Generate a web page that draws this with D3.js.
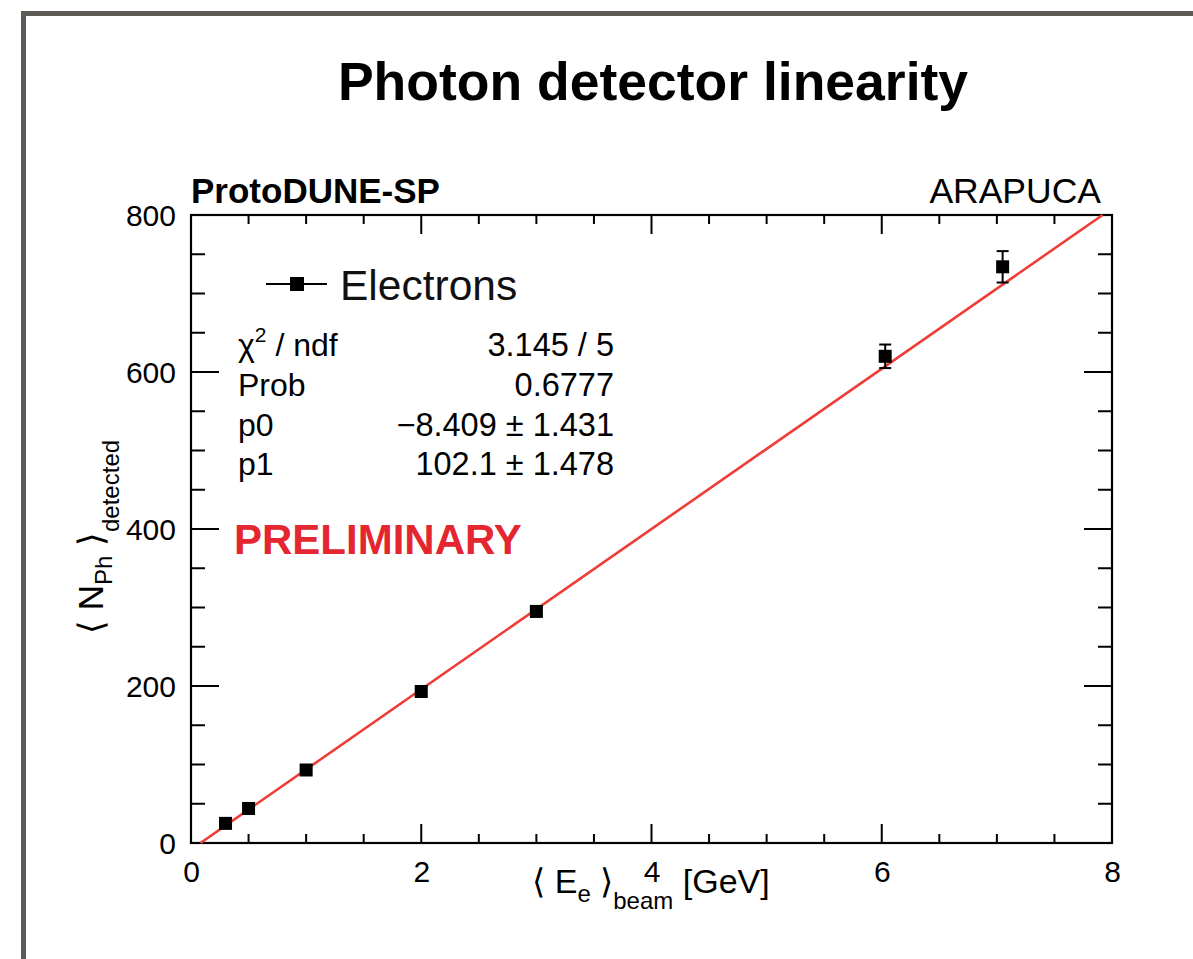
<!DOCTYPE html>
<html>
<head>
<meta charset="utf-8">
<script src="https://cdn.jsdelivr.net/npm/d3@7"></script>
<style>
  html, body { margin: 0; padding: 0; background: #fff; }
  svg { display: block; }
  text { font-family: "Liberation Sans", Arial, Helvetica, sans-serif; }
</style>
</head>
<body>
<script>
// ---------- data ----------
const energies = [0.3, 0.5, 1.0, 2.0, 3.0, 6.03, 7.05];      // <E_e>_beam [GeV]
const nPhotons = [25, 44, 93, 193, 295, 620, 734];           // <N_Ph>_detected
const nPhotonErrors = [3, 3, 4, 5, 6, 15, 20];
const fitP0 = -8.409;
const fitP1 = 102.1;
const xTickValues = [0, 2, 4, 6, 8];
const yTickValues = [0, 200, 400, 600, 800];
const statLabels = ["χ2 / ndf", "Prob", "p0", "p1"];
const statValues = ["3.145 / 5", "0.6777", "\u22128.409 ± 1.431", "102.1 ± 1.478"];
const legendLabel = "Electrons";
const titleText = "Photon detector linearity";

// ---------- layout ----------
const W = 1193, H = 959;
const plot = { left: 191, right: 1112, top: 215, bottom: 843 };

const svg = d3.select("body").append("svg").attr("width", W).attr("height", H);
svg.append("rect").attr("width", W).attr("height", H).attr("fill", "#fff");

// outer slide frame
svg.append("rect")
  .attr("x", 23.5).attr("y", 13.5).attr("width", W + 20).attr("height", H + 20)
  .attr("fill", "none").attr("stroke", "#5e5a56").attr("stroke-width", 5);

// title
svg.append("text").attr("x", 653).attr("y", 100).attr("text-anchor", "middle")
  .attr("font-size", 53.5).attr("font-weight", "bold").attr("fill", "#000").text(titleText);

const x = d3.scaleLinear().domain([0, 8]).range([plot.left, plot.right]);
const y = d3.scaleLinear().domain([0, 800]).range([plot.bottom, plot.top]);

// frame
svg.append("rect").attr("x", plot.left).attr("y", plot.top)
  .attr("width", plot.right - plot.left).attr("height", plot.bottom - plot.top)
  .attr("fill", "none").attr("stroke", "#000").attr("stroke-width", 2.2);

// ticks (ROOT style, inward, mirrored)
const xMinor = d3.range(0, 8.001, 0.5);
const yMinor = d3.range(0, 800.1, 50);
const tickG = svg.append("g").attr("stroke", "#000").attr("stroke-width", 2);
xMinor.forEach(v => {
  const major = Math.abs(v % 2) < 1e-9;
  const len = major ? 19 : 9;
  tickG.append("line").attr("x1", x(v)).attr("x2", x(v)).attr("y1", plot.bottom).attr("y2", plot.bottom - len);
  tickG.append("line").attr("x1", x(v)).attr("x2", x(v)).attr("y1", plot.top).attr("y2", plot.top + len);
});
yMinor.forEach(v => {
  const major = Math.abs(v % 200) < 1e-9;
  const len = major ? 28 : 14;
  tickG.append("line").attr("x1", plot.left).attr("x2", plot.left + len).attr("y1", y(v)).attr("y2", y(v));
  tickG.append("line").attr("x1", plot.right).attr("x2", plot.right - len).attr("y1", y(v)).attr("y2", y(v));
});

// tick labels via d3 axes
const xAxis = d3.axisBottom(x).tickValues(xTickValues).tickSize(0).tickPadding(0).tickFormat(d3.format("d"));
const gx = svg.append("g").attr("transform", `translate(0,${plot.bottom})`).call(xAxis);
gx.select(".domain").remove();
gx.selectAll("text").attr("font-size", 30).attr("fill", "#000").attr("dy", null).attr("y", 39)
  .attr("font-family", "'Liberation Sans', Arial, sans-serif");

const yAxis = d3.axisLeft(y).tickValues(yTickValues).tickSize(0).tickPadding(0).tickFormat(d3.format("d"));
const gy = svg.append("g").attr("transform", `translate(${plot.left},0)`).call(yAxis);
gy.select(".domain").remove();
gy.selectAll("text").attr("font-size", 30).attr("fill", "#000").attr("dy", "0.36em").attr("x", -15)
  .attr("font-family", "'Liberation Sans', Arial, sans-serif");

// header texts
svg.append("text").attr("x", 191).attr("y", 203).attr("font-size", 35).attr("font-weight", "bold").text("ProtoDUNE-SP");
svg.append("text").attr("x", 1101).attr("y", 203).attr("text-anchor", "end").attr("font-size", 35.5).text("ARAPUCA");

// fit line
const xStart = Math.max(0, -fitP0 / fitP1);
const xEnd = Math.min(8, (800 - fitP0) / fitP1);
const fitPts = [xStart, xEnd].map(e => [e, fitP0 + fitP1 * e]);
svg.append("path").datum(fitPts)
  .attr("d", d3.line().x(d => x(d[0])).y(d => y(d[1])))
  .attr("fill", "none").attr("stroke", "#ee3d38").attr("stroke-width", 2.6);

// data points with error bars
const pts = energies.map((e, i) => ({ e, n: nPhotons[i], err: nPhotonErrors[i] }));
const gp = svg.append("g");
pts.forEach(p => {
  const cx = x(p.e), cy = y(p.n), y1 = y(p.n + p.err), y2 = y(p.n - p.err);
  gp.append("line").attr("x1", cx).attr("x2", cx).attr("y1", y1).attr("y2", y2).attr("stroke", "#000").attr("stroke-width", 2);
  [y1, y2].forEach(yy => gp.append("line").attr("x1", cx - 6).attr("x2", cx + 6).attr("y1", yy).attr("y2", yy)
    .attr("stroke", "#000").attr("stroke-width", 2));
  gp.append("rect").attr("x", cx - 6.5).attr("y", cy - 6.5).attr("width", 13).attr("height", 13).attr("fill", "#000");
});

// legend
svg.append("line").attr("x1", 266).attr("x2", 327).attr("y1", 284).attr("y2", 284).attr("stroke", "#000").attr("stroke-width", 2);
svg.append("rect").attr("x", 290).attr("y", 277).attr("width", 14).attr("height", 14).attr("fill", "#000");
svg.append("text").attr("x", 340).attr("y", 300).attr("font-size", 42.5).attr("fill", "#111").text(legendLabel);

// stats box text
const statBase = [356, 396, 436, 475];
statLabels.forEach((lab, i) => {
  const t = svg.append("text").attr("x", 238).attr("y", statBase[i]).attr("font-size", 32);
  if (lab.startsWith("χ2")) {
    t.append("tspan").text("χ");
    t.append("tspan").attr("font-size", 21).attr("dy", -14).text("2");
    t.append("tspan").attr("dy", 14).text(" / ndf");
  } else {
    t.text(lab);
  }
  svg.append("text").attr("x", 614).attr("y", statBase[i]).attr("text-anchor", "end").attr("font-size", 32.5).text(statValues[i]);
});

// PRELIMINARY
svg.append("text").attr("x", 234).attr("y", 554).attr("font-size", 42).attr("font-weight", "bold")
  .attr("fill", "#e3262f").text("PRELIMINARY");

// x-axis title
const xt = svg.append("text").attr("x", 651).attr("y", 893).attr("text-anchor", "middle").attr("font-size", 34);
xt.append("tspan").text("⟨ E");
xt.append("tspan").attr("font-size", 24).attr("dy", 9).text("e");
xt.append("tspan").attr("dy", -9).text(" ⟩");
xt.append("tspan").attr("font-size", 24).attr("dy", 16).text("beam");
xt.append("tspan").attr("dy", -16).text(" [GeV]");

// y-axis title
const yt = svg.append("text").attr("transform", `translate(103,537) rotate(-90)`).attr("text-anchor", "middle").attr("font-size", 35);
yt.append("tspan").text("⟨ N");
yt.append("tspan").attr("font-size", 24).attr("dy", 9).text("Ph");
yt.append("tspan").attr("dy", -9).text(" ⟩");
yt.append("tspan").attr("font-size", 24).attr("dy", 16).text("detected");
</script>
</body>
</html>
